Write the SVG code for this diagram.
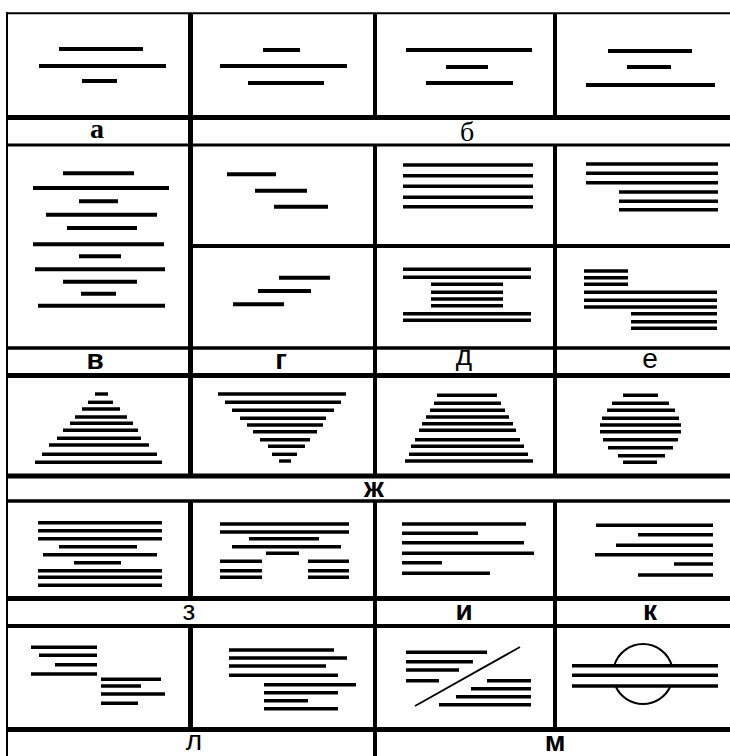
<svg xmlns="http://www.w3.org/2000/svg" width="730" height="756" viewBox="0 0 730 756">
<style>
.fr line{stroke:#000}
.c line{stroke:#000;stroke-width:4}
.d line{stroke:#000;stroke-width:3.4}
.s{font-family:"Liberation Sans",Arial,sans-serif;font-size:28px;text-anchor:middle;fill:#000}
.b{font-weight:bold}
.r{font-family:"Liberation Serif","Times New Roman",serif;font-size:28px;text-anchor:middle;fill:#000}
</style>
<rect width="730" height="756" fill="#fff"/>
<g id="frame" class="fr">
<line x1="6" y1="13.3" x2="730" y2="13.3" stroke-width="2"/>
<line x1="6" y1="117.5" x2="730" y2="117.5" stroke-width="5"/>
<line x1="6" y1="145" x2="730" y2="145" stroke-width="3"/>
<line x1="190" y1="246" x2="730" y2="246" stroke-width="4"/>
<line x1="6" y1="348" x2="730" y2="348" stroke-width="3.5"/>
<line x1="6" y1="375.5" x2="730" y2="375.5" stroke-width="5"/>
<line x1="6" y1="476" x2="730" y2="476" stroke-width="5"/>
<line x1="6" y1="501" x2="730" y2="501" stroke-width="3.5"/>
<line x1="6" y1="598.5" x2="730" y2="598.5" stroke-width="5"/>
<line x1="6" y1="626" x2="730" y2="626" stroke-width="4"/>
<line x1="6" y1="729.5" x2="730" y2="729.5" stroke-width="5"/>
<line x1="7" y1="12.3" x2="7" y2="756" stroke-width="2"/>
<line x1="190.5" y1="13" x2="190.5" y2="476" stroke-width="5"/>
<line x1="190.5" y1="501" x2="190.5" y2="598.5" stroke-width="5"/>
<line x1="190.5" y1="626" x2="190.5" y2="729.5" stroke-width="5"/>
<line x1="375" y1="13" x2="375" y2="117.5" stroke-width="4"/>
<line x1="375" y1="145" x2="375" y2="476" stroke-width="4"/>
<line x1="375" y1="501" x2="375" y2="756" stroke-width="4"/>
<line x1="555" y1="13" x2="555" y2="117.5" stroke-width="4"/>
<line x1="555" y1="145" x2="555" y2="476" stroke-width="4"/>
<line x1="555" y1="501" x2="555" y2="729.5" stroke-width="4"/>
</g>
<g id="cell-a" class="c">
<line x1="59" y1="49" x2="143" y2="49"/>
<line x1="39" y1="66" x2="166" y2="66"/>
<line x1="82" y1="81" x2="117" y2="81"/>
</g>
<g id="cell-b1" class="c">
<line x1="263" y1="50" x2="300" y2="50"/>
<line x1="220" y1="66" x2="347" y2="66"/>
<line x1="248" y1="83" x2="324" y2="83"/>
</g>
<g id="cell-b2" class="c">
<line x1="406" y1="50" x2="532" y2="50"/>
<line x1="446" y1="67" x2="488" y2="67"/>
<line x1="426" y1="83" x2="513" y2="83"/>
</g>
<g id="cell-b3" class="c">
<line x1="608" y1="51" x2="692" y2="51"/>
<line x1="627" y1="67" x2="671" y2="67"/>
<line x1="586" y1="85" x2="715" y2="85"/>
</g>
<g id="cell-v" class="c">
<line x1="63" y1="173.3" x2="134" y2="173.3"/>
<line x1="33" y1="188" x2="169" y2="188"/>
<line x1="79" y1="201.3" x2="118" y2="201.3"/>
<line x1="46" y1="214.7" x2="157" y2="214.7"/>
<line x1="67" y1="228" x2="137" y2="228"/>
<line x1="33" y1="244.3" x2="164" y2="244.3"/>
<line x1="79" y1="256.3" x2="121" y2="256.3"/>
<line x1="35" y1="269.3" x2="165" y2="269.3"/>
<line x1="63" y1="281.7" x2="137" y2="281.7"/>
<line x1="81" y1="293.7" x2="116" y2="293.7"/>
<line x1="38" y1="305.7" x2="165" y2="305.7"/>
</g>
<g id="cell-g1" class="c">
<line x1="227" y1="174.3" x2="276" y2="174.3"/>
<line x1="255" y1="190.7" x2="307" y2="190.7"/>
<line x1="274" y1="206.7" x2="328" y2="206.7"/>
</g>
<g id="cell-g2" class="c">
<line x1="279" y1="277.7" x2="330" y2="277.7"/>
<line x1="258" y1="291" x2="311" y2="291"/>
<line x1="233" y1="304.3" x2="284" y2="304.3"/>
</g>
<g id="cell-d1" class="d">
<line x1="403" y1="165" x2="533" y2="165"/>
<line x1="403" y1="175.7" x2="533" y2="175.7"/>
<line x1="403" y1="186.3" x2="533" y2="186.3"/>
<line x1="403" y1="197.3" x2="533" y2="197.3"/>
<line x1="403" y1="206.7" x2="533" y2="206.7"/>
</g>
<g id="cell-e1" class="d">
<line x1="586" y1="164" x2="718" y2="164"/>
<line x1="586" y1="173.3" x2="718" y2="173.3"/>
<line x1="586" y1="182.7" x2="718" y2="182.7"/>
<line x1="619" y1="192" x2="718" y2="192"/>
<line x1="619" y1="201.3" x2="718" y2="201.3"/>
<line x1="619" y1="209.7" x2="718" y2="209.7"/>
</g>
<g id="cell-d2" class="d">
<line x1="403" y1="269.3" x2="531" y2="269.3"/>
<line x1="403" y1="277.3" x2="531" y2="277.3"/>
<line x1="431" y1="284.3" x2="503" y2="284.3"/>
<line x1="431" y1="292.3" x2="503" y2="292.3"/>
<line x1="431" y1="299" x2="503" y2="299"/>
<line x1="431" y1="305.7" x2="503" y2="305.7"/>
<line x1="403" y1="313.7" x2="531" y2="313.7"/>
<line x1="403" y1="320.3" x2="531" y2="320.3"/>
</g>
<g id="cell-e2" class="d">
<line x1="584" y1="271" x2="628" y2="271"/>
<line x1="584" y1="277.7" x2="628" y2="277.7"/>
<line x1="584" y1="284.3" x2="628" y2="284.3"/>
<line x1="584" y1="292.3" x2="717" y2="292.3"/>
<line x1="584" y1="300.3" x2="717" y2="300.3"/>
<line x1="584" y1="307" x2="717" y2="307"/>
<line x1="631" y1="313.7" x2="717" y2="313.7"/>
<line x1="631" y1="321.7" x2="717" y2="321.7"/>
<line x1="631" y1="328.3" x2="717" y2="328.3"/>
</g>
<g id="cell-zh1" class="d">
<line x1="95" y1="394" x2="108" y2="394"/>
<line x1="88" y1="402.3" x2="113" y2="402.3"/>
<line x1="82" y1="409" x2="120" y2="409"/>
<line x1="75" y1="417" x2="127" y2="417"/>
<line x1="70" y1="423.3" x2="133" y2="423.3"/>
<line x1="63" y1="430.3" x2="138" y2="430.3"/>
<line x1="57" y1="438.3" x2="141" y2="438.3"/>
<line x1="49" y1="445" x2="149" y2="445"/>
<line x1="42" y1="454.3" x2="157" y2="454.3"/>
<line x1="35" y1="462.3" x2="162" y2="462.3"/>
</g>
<g id="cell-zh2" class="d">
<line x1="218" y1="394" x2="346" y2="394"/>
<line x1="225" y1="402.3" x2="341" y2="402.3"/>
<line x1="232" y1="410.3" x2="334" y2="410.3"/>
<line x1="240" y1="418.3" x2="326" y2="418.3"/>
<line x1="247" y1="425" x2="323" y2="425"/>
<line x1="253" y1="431.7" x2="317" y2="431.7"/>
<line x1="260" y1="439.7" x2="310" y2="439.7"/>
<line x1="268" y1="446.3" x2="305" y2="446.3"/>
<line x1="272" y1="454.3" x2="297" y2="454.3"/>
<line x1="279" y1="461" x2="291" y2="461"/>
</g>
<g id="cell-zh3" class="d">
<line x1="437" y1="395.3" x2="497" y2="395.3"/>
<line x1="434" y1="403.3" x2="501" y2="403.3"/>
<line x1="430" y1="410.3" x2="505" y2="410.3"/>
<line x1="426" y1="417" x2="509" y2="417"/>
<line x1="422" y1="423.7" x2="513" y2="423.7"/>
<line x1="419" y1="430.3" x2="516" y2="430.3"/>
<line x1="415" y1="439.7" x2="520" y2="439.7"/>
<line x1="411" y1="446.3" x2="524" y2="446.3"/>
<line x1="409" y1="454.3" x2="528" y2="454.3"/>
<line x1="405" y1="461" x2="533" y2="461"/>
</g>
<g id="cell-zh4" class="d">
<line x1="623" y1="395.3" x2="658" y2="395.3"/>
<line x1="612" y1="403.3" x2="669" y2="403.3"/>
<line x1="607" y1="410.3" x2="675" y2="410.3"/>
<line x1="602" y1="418.3" x2="679" y2="418.3"/>
<line x1="600" y1="425" x2="681" y2="425"/>
<line x1="600" y1="431.7" x2="681" y2="431.7"/>
<line x1="603" y1="439.7" x2="678" y2="439.7"/>
<line x1="608" y1="447.7" x2="673" y2="447.7"/>
<line x1="618" y1="455.7" x2="665" y2="455.7"/>
<line x1="623" y1="462.3" x2="657" y2="462.3"/>
</g>
<g id="cell-z1" class="d">
<line x1="38" y1="522.7" x2="162" y2="522.7"/>
<line x1="38" y1="530.7" x2="162" y2="530.7"/>
<line x1="38" y1="538.7" x2="162" y2="538.7"/>
<line x1="59" y1="546.7" x2="137" y2="546.7"/>
<line x1="43" y1="554.7" x2="157" y2="554.7"/>
<line x1="74" y1="562.7" x2="121" y2="562.7"/>
<line x1="38" y1="570.7" x2="162" y2="570.7"/>
<line x1="38" y1="577.3" x2="162" y2="577.3"/>
<line x1="38" y1="585.3" x2="162" y2="585.3"/>
</g>
<g id="cell-z2" class="d">
<line x1="220" y1="524" x2="349" y2="524"/>
<line x1="220" y1="532" x2="349" y2="532"/>
<line x1="249" y1="538.7" x2="319" y2="538.7"/>
<line x1="232" y1="546.7" x2="341" y2="546.7"/>
<line x1="266" y1="553.3" x2="299" y2="553.3"/>
<line x1="220" y1="561.3" x2="262" y2="561.3"/>
<line x1="220" y1="570.7" x2="262" y2="570.7"/>
<line x1="220" y1="577.3" x2="262" y2="577.3"/>
<line x1="308" y1="561.3" x2="349" y2="561.3"/>
<line x1="308" y1="570.7" x2="349" y2="570.7"/>
<line x1="308" y1="577.3" x2="349" y2="577.3"/>
</g>
<g id="cell-i" class="d">
<line x1="402" y1="524" x2="526" y2="524"/>
<line x1="402" y1="533.3" x2="478" y2="533.3"/>
<line x1="402" y1="542.7" x2="524" y2="542.7"/>
<line x1="402" y1="553.3" x2="534" y2="553.3"/>
<line x1="402" y1="562.7" x2="442" y2="562.7"/>
<line x1="402" y1="573.3" x2="490" y2="573.3"/>
</g>
<g id="cell-k" class="d">
<line x1="596" y1="525.3" x2="713" y2="525.3"/>
<line x1="638" y1="534.7" x2="713" y2="534.7"/>
<line x1="616" y1="545.3" x2="713" y2="545.3"/>
<line x1="595" y1="554.7" x2="713" y2="554.7"/>
<line x1="674" y1="564" x2="713" y2="564"/>
<line x1="638" y1="575" x2="713" y2="575"/>
</g>
<g id="cell-l1" class="d">
<line x1="31" y1="647.3" x2="97" y2="647.3"/>
<line x1="39" y1="655.3" x2="97" y2="655.3"/>
<line x1="55" y1="664.7" x2="97" y2="664.7"/>
<line x1="31" y1="674" x2="97" y2="674"/>
<line x1="101" y1="679.3" x2="161" y2="679.3"/>
<line x1="101" y1="686" x2="141" y2="686"/>
<line x1="101" y1="694" x2="165" y2="694"/>
<line x1="101" y1="703.3" x2="138" y2="703.3"/>
</g>
<g id="cell-l2" class="d">
<line x1="229" y1="650" x2="334" y2="650"/>
<line x1="229" y1="658" x2="347" y2="658"/>
<line x1="229" y1="666" x2="326" y2="666"/>
<line x1="229" y1="675.3" x2="338" y2="675.3"/>
<line x1="264" y1="684.7" x2="356" y2="684.7"/>
<line x1="264" y1="692.7" x2="338" y2="692.7"/>
<line x1="264" y1="700.7" x2="308" y2="700.7"/>
<line x1="264" y1="708.7" x2="338" y2="708.7"/>
</g>
<g id="cell-m1" class="d">
<line x1="406" y1="652.3" x2="487" y2="652.3"/>
<line x1="406" y1="661.7" x2="473" y2="661.7"/>
<line x1="406" y1="670" x2="459" y2="670"/>
<line x1="406" y1="680.7" x2="439" y2="680.7"/>
<line x1="487" y1="680.7" x2="531" y2="680.7"/>
<line x1="471" y1="688.7" x2="531" y2="688.7"/>
<line x1="456" y1="696.7" x2="531" y2="696.7"/>
<line x1="439" y1="704.7" x2="531" y2="704.7"/>
<line x1="415" y1="706" x2="520" y2="647" style="stroke-width:1.8"/>
</g>
<g id="cell-m2" class="d">
<line x1="572" y1="665.7" x2="718" y2="665.7"/>
<line x1="572" y1="675.3" x2="718" y2="675.3"/>
<line x1="572" y1="686" x2="718" y2="686"/>
<path d="M614.2 665.7 A30 30 0 0 1 671.8 665.7 M615.5 686 A30 30 0 0 0 670.5 686" fill="none" stroke="#000" stroke-width="2"/>
</g>
<g id="labels">
<text class="r b" x="97" y="138">а</text>
<text class="r" x="467" y="141">б</text>
<text class="s b" x="95" y="369">в</text>
<text class="s b" x="281" y="369">г</text>
<text class="s" x="464" y="365">д</text>
<text class="s" x="650" y="368">е</text>
<text class="s b" x="374" y="497">ж</text>
<text class="s" x="189" y="620">з</text>
<text class="s b" x="464" y="620">и</text>
<text class="s b" x="650" y="620">к</text>
<text class="s" x="194" y="750">л</text>
<text class="s b" x="555" y="751">м</text>
</g>
</svg>
